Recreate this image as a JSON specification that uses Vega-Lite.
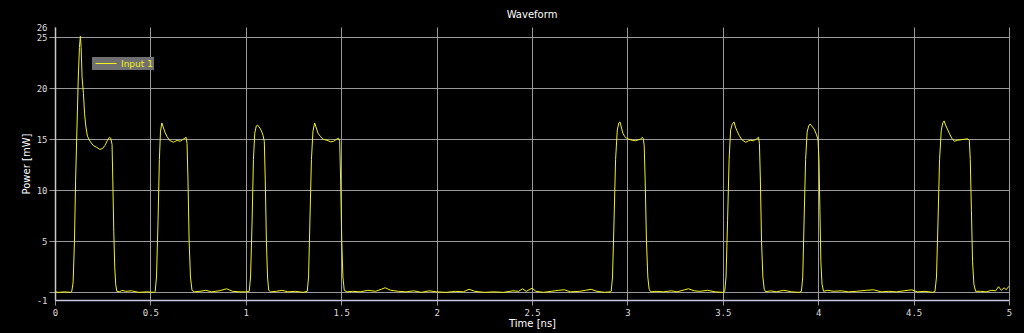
{
  "$schema": "https://vega.github.io/schema/vega-lite/v6.json",
  "width": 954,
  "height": 273,
  "autosize": {"type": "none"},
  "padding": {"left": 55, "top": 27, "right": 15, "bottom": 33},
  "background": "#000000",
  "title": {"text": "Waveform", "color": "#ffffff", "fontSize": 10, "font": "DejaVu Sans", "fontWeight": "normal", "anchor": "middle", "offset": 3},
  "config": {"view": {"stroke": null}},
  "data": {"values": [
    {"t":0,"p":0.05},{"t":0.02,"p":0},{"t":0.05,"p":0.05},{"t":0.08,"p":0},
    {"t":0.088,"p":0.1},{"t":0.095,"p":1.0},{"t":0.102,"p":5},{"t":0.108,"p":11},{"t":0.115,"p":16},{"t":0.122,"p":21},{"t":0.128,"p":24},{"t":0.133,"p":25.1},{"t":0.137,"p":24},{"t":0.142,"p":21},{"t":0.149,"p":19.5},{"t":0.155,"p":17.5},{"t":0.162,"p":16.2},{"t":0.17,"p":15.3},{"t":0.184,"p":14.8},{"t":0.2,"p":14.4},{"t":0.219,"p":14.2},{"t":0.235,"p":14.0},{"t":0.25,"p":14.1},{"t":0.262,"p":14.4},{"t":0.275,"p":14.9},{"t":0.285,"p":15.2},{"t":0.292,"p":15.1},{"t":0.299,"p":14.5},{"t":0.303,"p":11},{"t":0.308,"p":6},{"t":0.313,"p":2.5},{"t":0.318,"p":0.8},{"t":0.324,"p":0.1},
    {"t":0.34,"p":0.05},{"t":0.35,"p":0.2},{"t":0.37,"p":0.1},{"t":0.4,"p":0.15},{"t":0.44,"p":0},{"t":0.48,"p":0.05},{"t":0.52,"p":0},
    {"t":0.525,"p":0.1},{"t":0.532,"p":1.5},{"t":0.54,"p":7},{"t":0.547,"p":13},{"t":0.553,"p":15.8},{"t":0.56,"p":16.6},{"t":0.567,"p":16.2},{"t":0.576,"p":15.7},{"t":0.586,"p":15.3},{"t":0.6,"p":14.9},{"t":0.621,"p":14.7},{"t":0.64,"p":14.9},{"t":0.656,"p":14.8},{"t":0.672,"p":15.0},{"t":0.687,"p":15.2},{"t":0.692,"p":14.6},{"t":0.697,"p":11},{"t":0.703,"p":5},{"t":0.71,"p":1.5},{"t":0.718,"p":0.2},{"t":0.73,"p":0.05},
    {"t":0.76,"p":0.1},{"t":0.79,"p":0.2},{"t":0.82,"p":0.05},{"t":0.86,"p":0.15},{"t":0.9,"p":0.35},{"t":0.93,"p":0.1},{"t":0.97,"p":0.05},{"t":1.0,"p":0.05},
    {"t":1.018,"p":0.1},{"t":1.025,"p":1.5},{"t":1.033,"p":7},{"t":1.04,"p":13},{"t":1.047,"p":15.6},{"t":1.055,"p":16.3},{"t":1.061,"p":16.4},{"t":1.07,"p":16.2},{"t":1.08,"p":15.9},{"t":1.09,"p":15.4},{"t":1.097,"p":14.8},{"t":1.102,"p":11},{"t":1.108,"p":5},{"t":1.114,"p":1.5},{"t":1.12,"p":0.2},{"t":1.13,"p":0.05},
    {"t":1.16,"p":0.1},{"t":1.19,"p":0.2},{"t":1.22,"p":0.05},{"t":1.26,"p":0.1},{"t":1.3,"p":0},
    {"t":1.322,"p":0.1},{"t":1.329,"p":1.5},{"t":1.336,"p":7},{"t":1.344,"p":13},{"t":1.352,"p":15.8},{"t":1.361,"p":16.6},{"t":1.368,"p":16.2},{"t":1.378,"p":15.6},{"t":1.39,"p":15.3},{"t":1.405,"p":15.0},{"t":1.425,"p":14.9},{"t":1.445,"p":14.75},{"t":1.46,"p":14.8},{"t":1.475,"p":15.0},{"t":1.486,"p":15.1},{"t":1.492,"p":14.8},{"t":1.497,"p":11},{"t":1.503,"p":5},{"t":1.509,"p":1.5},{"t":1.516,"p":0.2},{"t":1.53,"p":0.05},
    {"t":1.56,"p":0.1},{"t":1.6,"p":0.05},{"t":1.64,"p":0.2},{"t":1.68,"p":0.1},{"t":1.71,"p":0.3},{"t":1.73,"p":0.45},{"t":1.76,"p":0.2},{"t":1.8,"p":0.1},{"t":1.84,"p":0.05},{"t":1.88,"p":0.15},{"t":1.92,"p":0},{"t":1.96,"p":0.15},{"t":2.0,"p":0.05},{"t":2.05,"p":0},{"t":2.1,"p":0.1},{"t":2.14,"p":0.05},{"t":2.17,"p":0.3},{"t":2.2,"p":0.1},{"t":2.25,"p":0},{"t":2.3,"p":0.05},{"t":2.35,"p":0},{"t":2.4,"p":0.15},{"t":2.43,"p":0.1},{"t":2.45,"p":0.35},{"t":2.47,"p":0.1},{"t":2.5,"p":0.4},{"t":2.52,"p":0.1},{"t":2.56,"p":0},{"t":2.6,"p":0.1},{"t":2.64,"p":0.2},{"t":2.67,"p":0.25},{"t":2.7,"p":0.05},{"t":2.75,"p":0.1},{"t":2.78,"p":0.2},{"t":2.81,"p":0.3},{"t":2.84,"p":0.1},{"t":2.88,"p":0},{"t":2.91,"p":0.05},
    {"t":2.915,"p":0.1},{"t":2.922,"p":1.5},{"t":2.93,"p":7},{"t":2.938,"p":13},{"t":2.947,"p":15.9},{"t":2.955,"p":16.6},{"t":2.961,"p":16.7},{"t":2.968,"p":16.2},{"t":2.976,"p":15.6},{"t":2.985,"p":15.3},{"t":2.995,"p":15.1},{"t":3.008,"p":15.0},{"t":3.025,"p":14.9},{"t":3.043,"p":14.85},{"t":3.058,"p":14.95},{"t":3.069,"p":15.0},{"t":3.078,"p":15.2},{"t":3.083,"p":15.1},{"t":3.088,"p":14.4},{"t":3.093,"p":11},{"t":3.1,"p":5},{"t":3.107,"p":1.5},{"t":3.114,"p":0.3},{"t":3.122,"p":0.05},
    {"t":3.15,"p":0.1},{"t":3.19,"p":0.05},{"t":3.23,"p":0.15},{"t":3.26,"p":0.05},{"t":3.3,"p":0.25},{"t":3.32,"p":0.35},{"t":3.35,"p":0.15},{"t":3.38,"p":0.1},{"t":3.42,"p":0.2},{"t":3.46,"p":0.05},{"t":3.5,"p":0},
    {"t":3.51,"p":0.1},{"t":3.517,"p":1.5},{"t":3.525,"p":7},{"t":3.533,"p":13},{"t":3.541,"p":15.9},{"t":3.55,"p":16.5},{"t":3.559,"p":16.7},{"t":3.566,"p":16.2},{"t":3.575,"p":15.8},{"t":3.585,"p":15.4},{"t":3.6,"p":14.95},{"t":3.62,"p":14.7},{"t":3.635,"p":14.85},{"t":3.646,"p":14.9},{"t":3.66,"p":14.85},{"t":3.675,"p":15.0},{"t":3.687,"p":15.2},{"t":3.692,"p":14.6},{"t":3.697,"p":11},{"t":3.703,"p":5},{"t":3.71,"p":1.5},{"t":3.717,"p":0.3},{"t":3.725,"p":0.05},
    {"t":3.75,"p":0.15},{"t":3.78,"p":0.05},{"t":3.82,"p":0.2},{"t":3.86,"p":0.05},{"t":3.9,"p":0},
    {"t":3.912,"p":0.1},{"t":3.919,"p":1.5},{"t":3.926,"p":7},{"t":3.934,"p":13},{"t":3.942,"p":15.7},{"t":3.95,"p":16.3},{"t":3.958,"p":16.5},{"t":3.966,"p":16.3},{"t":3.979,"p":16.0},{"t":3.99,"p":15.5},{"t":3.999,"p":15.0},{"t":4.004,"p":13},{"t":4.009,"p":8},{"t":4.014,"p":3},{"t":4.02,"p":0.8},{"t":4.028,"p":0.1},
    {"t":4.05,"p":0.2},{"t":4.08,"p":0.1},{"t":4.12,"p":0.15},{"t":4.16,"p":0.05},{"t":4.2,"p":0.1},{"t":4.25,"p":0.2},{"t":4.29,"p":0.25},{"t":4.33,"p":0.05},{"t":4.37,"p":0.1},{"t":4.41,"p":0.05},{"t":4.45,"p":0.15},{"t":4.49,"p":0.25},{"t":4.52,"p":0.05},{"t":4.56,"p":0.1},{"t":4.6,"p":0},
    {"t":4.612,"p":0.1},{"t":4.62,"p":1.5},{"t":4.628,"p":7},{"t":4.636,"p":13},{"t":4.645,"p":15.9},{"t":4.653,"p":16.6},{"t":4.66,"p":16.8},{"t":4.667,"p":16.4},{"t":4.677,"p":16.0},{"t":4.687,"p":15.6},{"t":4.7,"p":15.1},{"t":4.713,"p":14.8},{"t":4.73,"p":14.9},{"t":4.748,"p":14.95},{"t":4.765,"p":15.0},{"t":4.783,"p":15.05},{"t":4.792,"p":14.9},{"t":4.797,"p":13},{"t":4.803,"p":8},{"t":4.809,"p":3},{"t":4.816,"p":0.8},{"t":4.825,"p":0.1},
    {"t":4.85,"p":0.1},{"t":4.88,"p":0.05},{"t":4.91,"p":0.2},{"t":4.93,"p":0.15},{"t":4.945,"p":0.55},{"t":4.96,"p":0.2},{"t":4.975,"p":0.45},{"t":4.985,"p":0.25},{"t":5.0,"p":0.6}
  ]},
  "mark": {"type": "line", "strokeWidth": 1, "interpolate": "linear", "clip": true},
  "encoding": {
    "x": {
      "field": "t", "type": "quantitative",
      "scale": {"domain": [0, 5], "nice": false, "zero": false},
      "axis": {
        "title": "Time [ns]", "values": [0, 0.5, 1, 1.5, 2, 2.5, 3, 3.5, 4, 4.5, 5],
        "labelExpr": "datum.value == 0 || datum.value == 1 || datum.value == 2 || datum.value == 3 || datum.value == 4 || datum.value == 5 ? format(datum.value, 'd') : format(datum.value, '.1f')",
        "grid": true, "gridColor": "#9a9a9a", "gridWidth": 1,
        "domainColor": "#c8c8e0", "domainWidth": 1.5,
        "tickColor": "#9a9a9a", "tickSize": 5,
        "labelColor": "#dddddd", "labelFont": "DejaVu Sans Mono", "labelFontSize": 9, "labelPadding": 3,
        "labelFlush": false, "labelOverlap": false,
        "titleColor": "#ffffff", "titleFont": "DejaVu Sans", "titleFontSize": 10, "titleFontWeight": "normal", "titlePadding": 1
      }
    },
    "y": {
      "field": "p", "type": "quantitative",
      "scale": {"domain": [-0.75, 26], "nice": false, "zero": false},
      "axis": {
        "title": "Power [mW]", "values": [-0.75, 0, 5, 10, 15, 20, 25, 26],
        "labelExpr": "datum.value < 0 ? '-1' : datum.value == 0 ? '' : format(datum.value, 'd')",
        "grid": true, "gridColor": "#9a9a9a", "gridWidth": 1,
        "gridOpacity": {"condition": {"test": "datum.value > 25.5 || datum.value < -0.5", "value": 0}, "value": 1},
        "tickOpacity": {"condition": {"test": "datum.value > 25.5 || datum.value < -0.5", "value": 0}, "value": 1},
        "domainColor": "#c8c8c8", "domainWidth": 1.5,
        "tickColor": "#9a9a9a", "tickSize": 6,
        "labelColor": "#dddddd", "labelFont": "DejaVu Sans Mono", "labelFontSize": 9, "labelPadding": 2,
        "labelOverlap": false, "labelFlush": false,
        "titleColor": "#ffffff", "titleFont": "DejaVu Sans", "titleFontSize": 10, "titleFontWeight": "normal", "titlePadding": 5
      }
    },
    "color": {
      "datum": "Input 1", "type": "nominal",
      "scale": {"range": ["#f2f21a"]},
      "legend": {
        "title": null, "orient": "none", "legendX": 37, "legendY": 30,
        "fillColor": "#707070", "padding": 1, "cornerRadius": 0,
        "symbolType": "M-0.6,0L3.6,0", "symbolSize": 100, "symbolStrokeWidth": 1,
        "symbolStrokeColor": "#f2f21a", "symbolFillColor": "transparent",
        "labelColor": "#f2f21a", "labelFont": "DejaVu Sans", "labelFontSize": 9, "labelOffset": 17
      }
    }
  }
}
